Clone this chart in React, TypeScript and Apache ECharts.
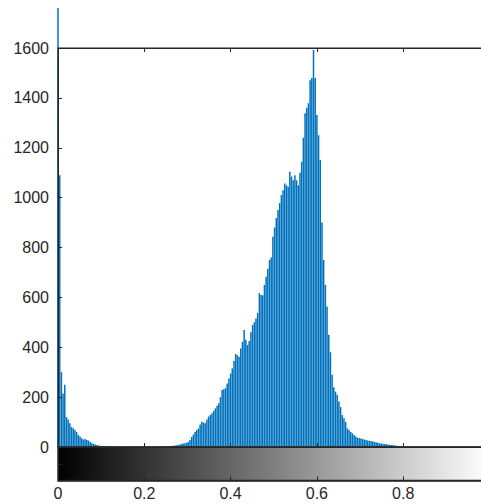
import React, { useEffect, useRef } from "react";
import * as echarts from "echarts";

// Histogram counts for 256 intensity bins (0..255)
const binCounts: number[] = [
  1760, 1090, 300, 215, 250, 120, 110, 95, 80, 75,
  68, 60, 48, 42, 35, 30, 32, 28, 26, 20,
  15, 12, 10, 8, 6, 5, 4, 4, 3, 3,
  2, 2, 2, 1, 1, 1, 1, 1, 0, 0,
  0, 0, 0, 0, 0, 0, 0, 0, 0, 0,
  0, 0, 0, 0, 0, 0, 1, 1, 1, 1,
  1, 2, 2, 2, 3, 3, 4, 4, 5, 6,
  7, 8, 10, 12, 14, 15, 17, 20, 28, 40,
  50, 60, 68, 75, 90, 101, 98, 95, 110, 122,
  128, 135, 145, 155, 165, 175, 200, 229, 232, 236,
  255, 275, 295, 315, 345, 373, 368, 362, 395, 422,
  469, 430, 409, 425, 460, 489, 500, 515, 537, 617,
  610, 609, 650, 683, 715, 750, 760, 843, 880, 918,
  950, 978, 1010, 1030, 1057, 1050, 1044, 1104, 1085, 1070,
  1090, 1070, 1050, 1100, 1144, 1240, 1338, 1360, 1378, 1471,
  1480, 1592, 1480, 1331, 1250, 1151, 900, 750, 650, 563,
  450, 380, 290, 240, 222, 210, 182, 160, 128, 115,
  100, 75, 68, 60, 55, 48, 42, 37, 36, 34,
  32, 30, 28, 26, 25, 24, 22, 21, 19, 17,
  15, 14, 13, 12, 11, 10, 9, 8, 8, 6,
  5, 4, 3, 2, 2, 1, 1, 0, 0, 0,
  0, 0, 0, 0, 0, 0, 0, 0, 0, 0,
  0, 0, 0, 0, 0, 0, 0, 0, 0, 0,
  0, 0, 0, 0, 0, 0, 0, 0, 0, 0,
  0, 0, 0, 0, 0, 0, 0, 0, 0, 0,
  0, 0, 0, 0, 0, 0,
];

const yMax = 1600;
const yInterval = 200;
const xInterval = 0.2;

const FONT = "'Liberation Sans', Arial, Helvetica, sans-serif";
const AXIS_COLOR = "#262626";
const BAR_COLOR = "#0072BD";

// layout
const PLOT_LEFT = 58;
const PLOT_TOP = 48;
const PLOT_WIDTH = 431.5;
const PLOT_HEIGHT = 399;
const BAR_HEIGHT = 33.5;

export default function App() {
  const ref = useRef<HTMLDivElement>(null);

  useEffect(() => {
    if (!ref.current) return;
    const chart = echarts.init(ref.current, undefined, { renderer: "svg" });
    const n = binCounts.length;
    const data = binCounts.map((v, i) => [i / (n - 1), v]);

    const tickStyle = { show: true, inside: true, length: 4, lineStyle: { color: AXIS_COLOR, width: 1 } };
    const lineStyle = { show: true, lineStyle: { color: AXIS_COLOR, width: 1 } };

    chart.setOption({
      animation: false,
      backgroundColor: "#ffffff",
      grid: [
        {
          left: PLOT_LEFT,
          top: PLOT_TOP,
          width: PLOT_WIDTH,
          height: PLOT_HEIGHT,
          outerBoundsMode: "none",
          containLabel: false,
          show: true,
          borderColor: AXIS_COLOR,
          borderWidth: 1,
          z: 10,
        },
        {
          left: PLOT_LEFT,
          top: PLOT_TOP + PLOT_HEIGHT,
          width: PLOT_WIDTH,
          height: BAR_HEIGHT,
          outerBoundsMode: "none",
          containLabel: false,
          show: true,
          borderColor: AXIS_COLOR,
          borderWidth: 1.5,
          z: 10,
        },
      ],
      xAxis: [
        {
          gridIndex: 0,
          type: "value",
          min: 0,
          max: 1,
          interval: xInterval,
          position: "bottom",
          axisLine: lineStyle,
          axisTick: tickStyle,
          axisLabel: { show: false },
          splitLine: { show: false },
          z: 10,
        },
        {
          gridIndex: 0,
          type: "value",
          min: 0,
          max: 1,
          interval: xInterval,
          position: "top",
          axisLine: lineStyle,
          axisTick: tickStyle,
          axisLabel: { show: false },
          splitLine: { show: false },
          z: 10,
        },
        {
          gridIndex: 1,
          type: "value",
          min: 0,
          max: 1,
          interval: xInterval,
          position: "bottom",
          axisLine: { show: true, lineStyle: { color: AXIS_COLOR, width: 1.5 } },
          axisTick: tickStyle,
          axisLabel: {
            show: true,
            showMaxLabel: false,
            color: AXIS_COLOR,
            fontFamily: FONT,
            fontSize: 16,
            margin: 5,
            formatter: (v: number) => String(Math.round(v * 10) / 10),
          },
          splitLine: { show: false },
          z: 10,
        },
      ],
      yAxis: [
        {
          gridIndex: 0,
          type: "value",
          min: 0,
          max: yMax,
          interval: yInterval,
          axisLine: lineStyle,
          axisTick: tickStyle,
          axisLabel: {
            show: true,
            color: AXIS_COLOR,
            fontFamily: FONT,
            fontSize: 16,
            margin: 9,
            formatter: (v: number) => String(v),
          },
          splitLine: { show: false },
          z: 10,
        },
        {
          gridIndex: 1,
          type: "value",
          min: 0,
          max: 1,
          interval: 0.5,
          axisLine: lineStyle,
          axisTick: tickStyle,
          axisLabel: { show: false },
          splitLine: { show: false },
          z: 10,
        },
      ],
      graphic: [
        {
          type: "rect",
          z: 0,
          shape: { x: PLOT_LEFT, y: PLOT_TOP + PLOT_HEIGHT, width: PLOT_WIDTH, height: BAR_HEIGHT },
          style: {
            fill: new echarts.graphic.LinearGradient(0, 0, 1, 0, [
              { offset: 0, color: "#000000" },
              { offset: 1, color: "#ffffff" },
            ]),
          },
        },
      ],
      series: [
        {
          type: "bar",
          xAxisIndex: 0,
          yAxisIndex: 0,
          data,
          barWidth: 1.5,
          clip: false,
          itemStyle: { color: BAR_COLOR },
          z: 5,
        },
      ],
    });

    return () => chart.dispose();
  }, []);

  return (
    <div
      ref={ref}
      style={{ position: "fixed", left: 0, top: 0, width: 481, height: 504 }}
    />
  );
}
